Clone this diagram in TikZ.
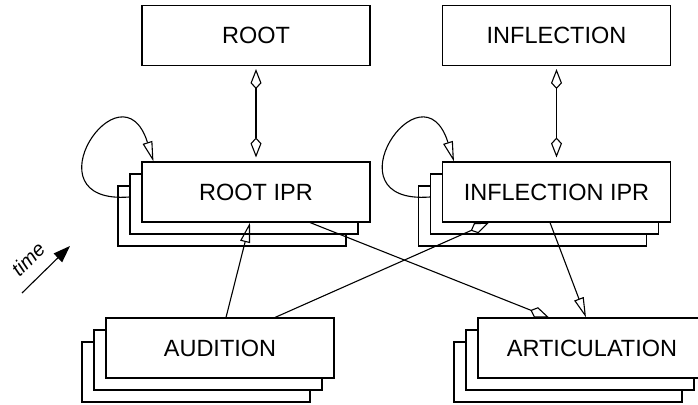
\documentclass[tikz,border=0pt]{standalone}
\usepackage{fontspec}
\setmainfont{Liberation Sans}
\usetikzlibrary{arrows.meta,shadows}

\tikzset{
  box/.style={draw, fill=white, minimum width=228pt, minimum height=60pt, inner sep=0pt,
    font=\fontsize{23.5pt}{28pt}\selectfont},
  stack/.style={box, double copy shadow={shadow xshift=-12pt, shadow yshift=-12pt}},
  opentri/.style={-{Triangle[open,length=20pt,width=10pt]}},
  openkite/.style={-{Kite[open,length=20pt,width=11pt,inset=6pt]}},
  twokite/.style={{Kite[open,length=20pt,width=11pt,inset=6pt]}-{Kite[open,length=20pt,width=11pt,inset=6pt]}},
}

\begin{document}
\begin{tikzpicture}[x=1pt, y=-1pt, line width=1.1pt]
  \useasboundingbox (0,0) rectangle (698,404);
  \clip (0,0) rectangle (698,404);

  % lexical boxes
  \node[box] (root) at (256,35.5) {ROOT};
  \node[box] (infl) at (556.5,35.5) {INFLECTION};

  % stacked boxes
  \node[stack] (rootipr) at (256,192) {ROOT IPR};
  \node[stack] (inflipr) at (556.5,192) {INFLECTION IPR};
  \node[stack] (aud) at (220,348) {AUDITION};
  \node[stack] (artic) at (592,348) {ARTICULATION};

  % lexicon <-> IPR
  \draw[twokite, shorten <=3pt, shorten >=4pt] (root.south) -- (rootipr.north);
  \draw[twokite, shorten <=3pt, shorten >=4pt] (infl.south) -- (inflipr.north);

  % self loops
  \draw[opentri] ([xshift=-12pt,yshift=-5pt]rootipr.west)
    .. controls +(-105,8) and +(-32,-102) .. ([xshift=12pt]rootipr.north west);
  \draw[opentri] ([xshift=-12pt,yshift=-5pt]inflipr.west)
    .. controls +(-105,8) and +(-32,-102) .. ([xshift=12pt]inflipr.north west);

  % crossing links
  \draw[opentri] ([xshift=6pt]aud.north) -- ([xshift=-6pt]rootipr.south);
  \draw[openkite] ([xshift=55pt]aud.north) -- ([xshift=-67.5pt]inflipr.south);
  \draw[openkite] ([xshift=54pt]rootipr.south) -- ([xshift=-43pt]artic.north);
  \draw[opentri] ([xshift=-6.5pt]inflipr.south) -- ([xshift=-6pt]artic.north);

  % time axis
  \coordinate (t0) at (22,293);
  \coordinate (t1) at (70,246);
  \draw[-{Triangle[length=17pt,width=12pt]}] (t0) -- (t1);
  \node[rotate=45, inner sep=0pt, font=\fontsize{20pt}{24pt}\selectfont\itshape] (time) at (28,259) {time};
\end{tikzpicture}
\end{document}
